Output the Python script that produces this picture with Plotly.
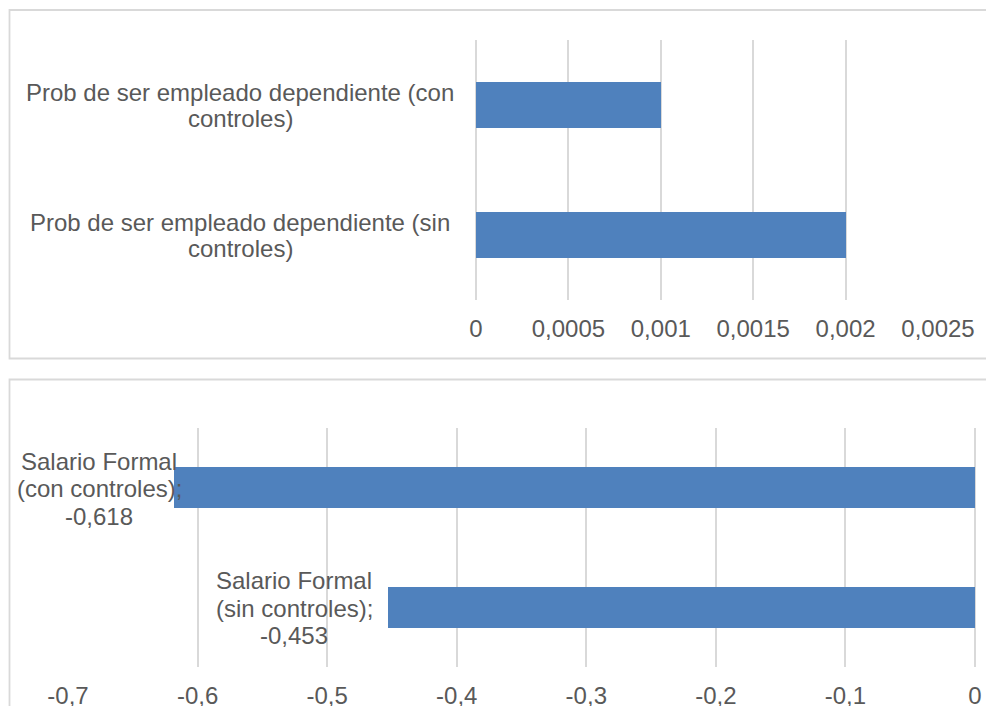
import plotly.graph_objects as go

# ---------------- data ----------------
top_categories = [
    "Prob de ser empleado dependiente (con controles)",
    "Prob de ser empleado dependiente (sin controles)",
]
top_label_lines = [
    ["Prob de ser empleado dependiente (con", "controles)"],
    ["Prob de ser empleado dependiente (sin", "controles)"],
]
top_values = [0.001, 0.002]
top_tickvals = [0, 0.0005, 0.001, 0.0015, 0.002, 0.0025]
top_ticktext = ["0", "0,0005", "0,001", "0,0015", "0,002", "0,0025"]

bottom_categories = ["Salario Formal (con controles)", "Salario Formal (sin controles)"]
bottom_label_lines = [
    ["Salario Formal", "(con controles);"],
    ["Salario Formal", "(sin controles);"],
]
bottom_values = [-0.618, -0.453]
bottom_tickvals = [-0.7, -0.6, -0.5, -0.4, -0.3, -0.2, -0.1, 0]
bottom_ticktext = ["-0,7", "-0,6", "-0,5", "-0,4", "-0,3", "-0,2", "-0,1", "0"]

# ---------------- style ----------------
W, H = 994, 706
OFF = 8  # page offset of the plot div
FONT = "Liberation Sans, Arial, sans-serif"
FS = 24
TXT = "#595959"
GRID = "#D9D9D9"
BAR = "#4F81BD"
LINE_H = 26
LW = 1.8


def px_x(p):
    return (p - OFF) / W


def px_y(p):
    return 1 - (p - OFF) / H


fig = go.Figure()

fig.add_trace(go.Bar(
    x=top_values, y=top_categories, orientation="h",
    marker=dict(color=BAR, line=dict(width=0)), width=0.354,
    xaxis="x", yaxis="y", showlegend=False, hoverinfo="x+y",
))
fig.add_trace(go.Bar(
    x=bottom_values, y=bottom_categories, orientation="h",
    marker=dict(color=BAR, line=dict(width=0)), width=0.34,
    xaxis="x2", yaxis="y2", showlegend=False, hoverinfo="x+y",
))

axis_common = dict(
    showgrid=True, gridcolor=GRID, gridwidth=LW,
    zeroline=True, zerolinecolor=GRID, zerolinewidth=LW,
    showline=False, ticks="", tickfont=dict(family=FONT, size=FS, color=TXT),
    tickmode="array", fixedrange=True, automargin=False,
)
yaxis_common = dict(
    type="category", categoryorder="array", range=[-0.5, 1.5],
    showticklabels=False, showgrid=False, zeroline=False, showline=False,
    ticks="", fixedrange=True, automargin=False,
)

fig.update_layout(
    template="none",
    width=W, height=H, autosize=False,
    margin=dict(l=0, r=0, t=0, b=0, pad=0, autoexpand=False),
    paper_bgcolor="white", plot_bgcolor="white",
    font=dict(family=FONT, size=FS, color=TXT),
    bargap=0, showlegend=False,
    xaxis=dict(domain=[px_x(476), px_x(938)], range=[0, 0.0025],
               tickvals=top_tickvals, ticktext=top_ticktext,
               anchor="y", ticklabelstandoff=12, **axis_common),
    yaxis=dict(domain=[px_y(300), px_y(40)],
               categoryarray=top_categories[::-1], anchor="x", **yaxis_common),
    xaxis2=dict(domain=[px_x(68), px_x(975)], range=[-0.7, 0],
                tickvals=bottom_tickvals, ticktext=bottom_ticktext,
                anchor="y2", ticklabelstandoff=12, **axis_common),
    yaxis2=dict(domain=[px_y(667), px_y(428)],
                categoryarray=bottom_categories[::-1], anchor="x2", **yaxis_common),
)

# panel borders
fig.add_shape(type="rect", xref="paper", yref="paper",
              x0=px_x(9.5), x1=1.05, y0=px_y(358.5), y1=px_y(10),
              line=dict(color=GRID, width=LW), fillcolor="rgba(0,0,0,0)", layer="below")
fig.add_shape(type="rect", xref="paper", yref="paper",
              x0=px_x(9.5), x1=1.05, y0=-0.05, y1=px_y(379.5),
              line=dict(color=GRID, width=LW), fillcolor="rgba(0,0,0,0)", layer="below")

annotations = []
# top category labels (centered block left of axis)
for cat, lines in zip(top_categories, top_label_lines):
    n = len(lines)
    for i, ln in enumerate(lines):
        annotations.append(dict(
            xref="paper", yref="y", x=px_x(240), y=cat, text=ln,
            xanchor="center", yanchor="middle", showarrow=False,
            yshift=((n - 1) / 2 - i) * LINE_H,
            font=dict(family=FONT, size=FS, color=TXT),
        ))

# bottom data labels: category name + value
label_xshift = [-75, -94]
for cat, lines, val, xs in zip(bottom_categories, bottom_label_lines, bottom_values, label_xshift):
    all_lines = lines + [f"{val:.3f}".replace(".", ",")]
    n = len(all_lines)
    for i, ln in enumerate(all_lines):
        annotations.append(dict(
            xref="x2", yref="y2", x=val, y=cat, text=ln,
            xanchor="center", yanchor="middle", showarrow=False,
            xshift=xs, yshift=((n - 1) / 2 - i) * 27.5 - 1,
            font=dict(family=FONT, size=FS, color=TXT),
        ))

fig.update_layout(annotations=annotations)

fig.write_html("out.html")
